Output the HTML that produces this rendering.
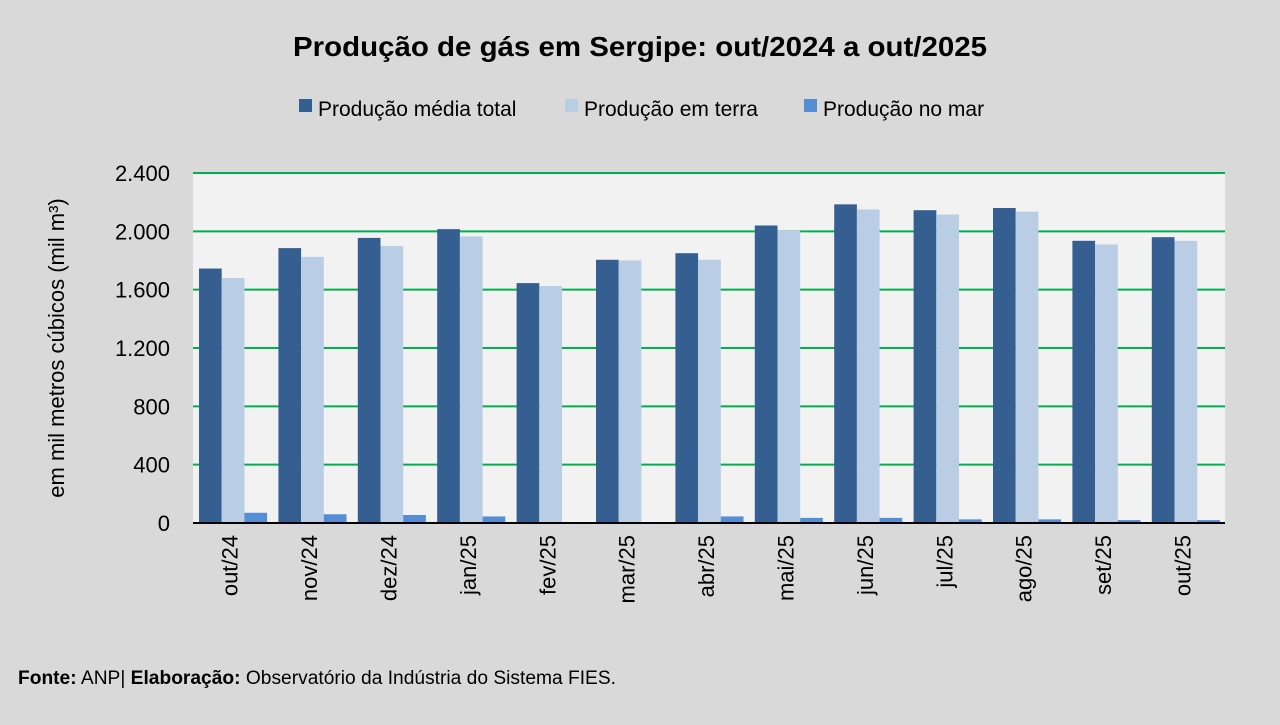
<!DOCTYPE html>
<html><head><meta charset="utf-8"><style>
body{margin:0;background:#d9d9d9;width:1280px;height:720px;overflow:hidden;font-family:"Liberation Sans",sans-serif}
</style></head><body>
<svg id="s" width="1280" height="720" xmlns="http://www.w3.org/2000/svg" font-family="Liberation Sans, sans-serif">
<rect width="1280" height="720" fill="#d9d9d9"/>
<text x="640" y="56" text-anchor="middle" font-size="28" font-weight="bold" fill="#000" textLength="694" lengthAdjust="spacingAndGlyphs">Produção de gás em Sergipe: out/2024 a out/2025</text>
<rect x="299" y="99" width="13" height="13" fill="#355f91"/><text x="318" y="116" font-size="21">Produção média total</text>
<rect x="565" y="99" width="13" height="13" fill="#b9cde5"/><text x="584" y="116" font-size="21">Produção em terra</text>
<rect x="804" y="99" width="13" height="13" fill="#558ed5"/><text x="823" y="116" font-size="21">Produção no mar</text>
<rect x="193" y="173" width="1032" height="350" fill="#f2f2f2"/>
<g id="g"></g>
<line x1="193" y1="523" x2="1225" y2="523" stroke="#000" stroke-width="2"/>
<text transform="translate(64,348) rotate(-90)" text-anchor="middle" font-size="22">em mil metros cúbicos (mil m³)</text>
<text x="18" y="684" font-size="19" textLength="598" lengthAdjust="spacingAndGlyphs"><tspan font-weight="bold">Fonte:</tspan> ANP| <tspan font-weight="bold">Elaboração:</tspan> Observatório da Indústria do Sistema FIES.</text>
</svg>
<script>
var g=document.getElementById('g'),h='';
var ns=['out/24','nov/24','dez/24','jan/25','fev/25','mar/25','abr/25','mai/25','jun/25','jul/25','ago/25','set/25','out/25'];
var d=[[1745,1680,70],[1885,1825,60],[1955,1900,55],[2015,1965,45],[1645,1625,3],[1805,1800,3],[1850,1805,45],[2040,2005,35],[2185,2150,35],[2145,2115,25],[2160,2135,25],[1935,1910,20],[1960,1935,20]];
function y(v){return 523-v*350/2400}
for(var i=0;i<=6;i++){var yy=y(i*400);
 if(i>0)h+='<line x1="193" x2="1225" y1="'+yy+'" y2="'+yy+'" stroke="#00b050" stroke-width="2"/>';
 h+='<text x="170" y="'+(yy+8)+'" text-anchor="end" font-size="22">'+(i*400).toLocaleString('de-DE').replace(',','.')+'</text>';}
var cols=['#355f91','#b9cde5','#558ed5'];
for(var c=0;c<13;c++){var x0=193+c*79.4+6;
 for(var k=0;k<3;k++){var v=d[c][k];h+='<rect x="'+(x0+k*22.7)+'" y="'+y(v)+'" width="22.7" height="'+(523-y(v))+'" fill="'+cols[k]+'"/>';}
 var cx=193+c*79.4+39.7+5;
 h+='<text transform="translate('+cx+',535) rotate(-90)" text-anchor="end" font-size="22">'+ns[c]+'</text>';}
g.innerHTML=h;
</script>
</body></html>
